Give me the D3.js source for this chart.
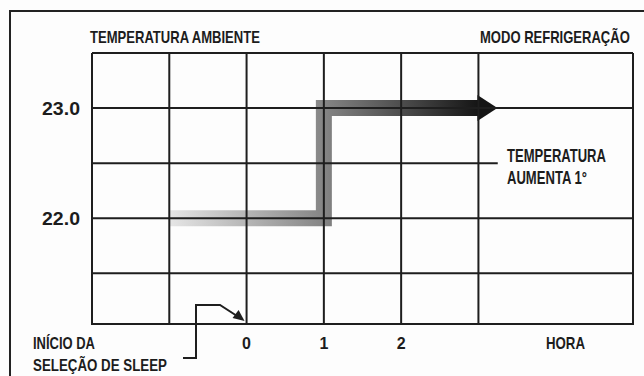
<!DOCTYPE html>
<html>
<head>
<meta charset="utf-8">
<script src="https://cdn.jsdelivr.net/npm/d3@7"></script>
<style>
  body { margin: 0; background: #fdfdfd; }
  svg { display: block; }
  .narrow { font-family: 'Liberation Sans Narrow', 'Arial Narrow', 'Liberation Sans', sans-serif; font-weight: bold; fill: #1c1c1c; }
  .num { font-family: 'Liberation Sans', Arial, sans-serif; font-weight: bold; fill: #1c1c1c; }
</style>
</head>
<body>
<svg width="644" height="376"></svg>
<script>
// grid hours (vertical lines) and temperature rows (horizontal lines)
const gridHours = [-2, -1, 0, 1, 2, 3, 5];
const gridTemps = [23.5, 23.0, 22.5, 22.0, 21.5];
const yTickValues = [23.0, 22.0];
const xTickValues = [0, 1, 2];

// sleep step: temperature rises 1 degree after one hour
const stepHours = [-1, 1, 1, 3];
const stepTemps = [22.0, 22.0, 23.0, 23.0];

const plot = { left: 92, right: 633, top: 53, bottom: 324 };

const x = d3.scaleLinear().domain([-2, 5]).range([plot.left, plot.right]);
const y = d3.scaleLinear().domain([21.04, 23.5]).range([plot.bottom, plot.top]);

const svg = d3.select('svg');

// outer frame (only top and left visible)
svg.append('path')
  .attr('d', 'M644,11 L10,11 L10,376')
  .attr('fill', 'none').attr('stroke', '#222').attr('stroke-width', 2);

// gradient for the step band
const defs = svg.append('defs');
const grad = defs.append('linearGradient')
  .attr('id', 'stepGrad')
  .attr('gradientUnits', 'userSpaceOnUse')
  .attr('x1', x(-1)).attr('x2', x(3))
  .attr('y1', 0).attr('y2', 0);
grad.append('stop').attr('offset', 0).attr('stop-color', '#e6e6e6');
grad.append('stop').attr('offset', 0.5).attr('stop-color', '#858585');
grad.append('stop').attr('offset', 1).attr('stop-color', '#151515');

const stepData = stepHours.map((h, i) => [h, stepTemps[i]]);
const line = d3.line().x(d => x(d[0])).y(d => y(d[1]));

svg.append('path')
  .attr('d', line(stepData))
  .attr('fill', 'none')
  .attr('stroke', 'url(#stepGrad)')
  .attr('stroke-width', 16)
  .attr('stroke-linejoin', 'miter');

// arrow head at the end of the step
const last = stepData[stepData.length - 1];
const ax = x(last[0]), ay = y(last[1]);
svg.append('path')
  .attr('d', `M${ax - 1},${ay - 13} L${ax + 19},${ay} L${ax - 1},${ay + 13} Z`)
  .attr('fill', '#151515');

// grid
const grid = svg.append('g').attr('stroke', '#1e1e1e').attr('stroke-width', 2);
grid.selectAll('.v').data(gridHours).enter()
  .append('line')
  .attr('x1', d => x(d)).attr('x2', d => x(d))
  .attr('y1', plot.top).attr('y2', plot.bottom);
grid.selectAll('.h').data(gridTemps).enter()
  .append('line')
  .attr('x1', plot.left)
  .attr('x2', d => d === 22.5 ? x(3.25) : plot.right)
  .attr('y1', d => y(d)).attr('y2', d => y(d));
grid.append('line')
  .attr('x1', plot.left - 1).attr('x2', plot.right + 1)
  .attr('y1', plot.bottom).attr('y2', plot.bottom);

// y labels
svg.selectAll('.ylab').data(yTickValues).enter()
  .append('text')
  .attr('class', 'num')
  .attr('x', 80).attr('y', d => y(d) + 7)
  .attr('text-anchor', 'end')
  .attr('font-size', 18)
  .attr('textLength', 38).attr('lengthAdjust', 'spacingAndGlyphs')
  .text(d => d.toFixed(1));

// x labels
svg.selectAll('.xlab').data(xTickValues).enter()
  .append('text')
  .attr('class', 'num')
  .attr('x', d => x(d)).attr('y', 349)
  .attr('text-anchor', 'middle')
  .attr('font-size', 16)
  .text(d => d);

// condensed labels: squeeze horizontally to the width seen in the chart
function label(txt, tx, ty, size, len) {
  const t = svg.append('text')
    .attr('class', 'narrow')
    .attr('font-size', size)
    .text(txt);
  const w = t.node().getComputedTextLength();
  t.attr('transform', `translate(${tx},${ty}) scale(${len / w},1)`);
}

label('TEMPERATURA AMBIENTE', 90, 43, 16, 170);
label('MODO REFRIGERAÇÃO', 480, 43, 16, 150);
label('TEMPERATURA', 507, 162, 18, 99);
label('AUMENTA 1°', 507, 184, 18, 80);
label('HORA', 546, 349, 16, 39);
label('INÍCIO DA', 33, 349, 17, 62);
label('SELEÇÃO DE SLEEP', 33, 371, 17, 134);

// leader from sleep label to hour 0
const lead = svg.append('g').attr('stroke', '#1e1e1e').attr('stroke-width', 2).attr('fill', 'none');
lead.append('path')
  .attr('d', `M183,358 L196,358 L196,305 L220,305 L${x(0) - 8},317`);
svg.append('path')
  .attr('d', `M${x(0) - 2},321 L${x(0) - 14},318 L${x(0) - 8},310 Z`)
  .attr('fill', '#1e1e1e');
</script>
</body>
</html>
